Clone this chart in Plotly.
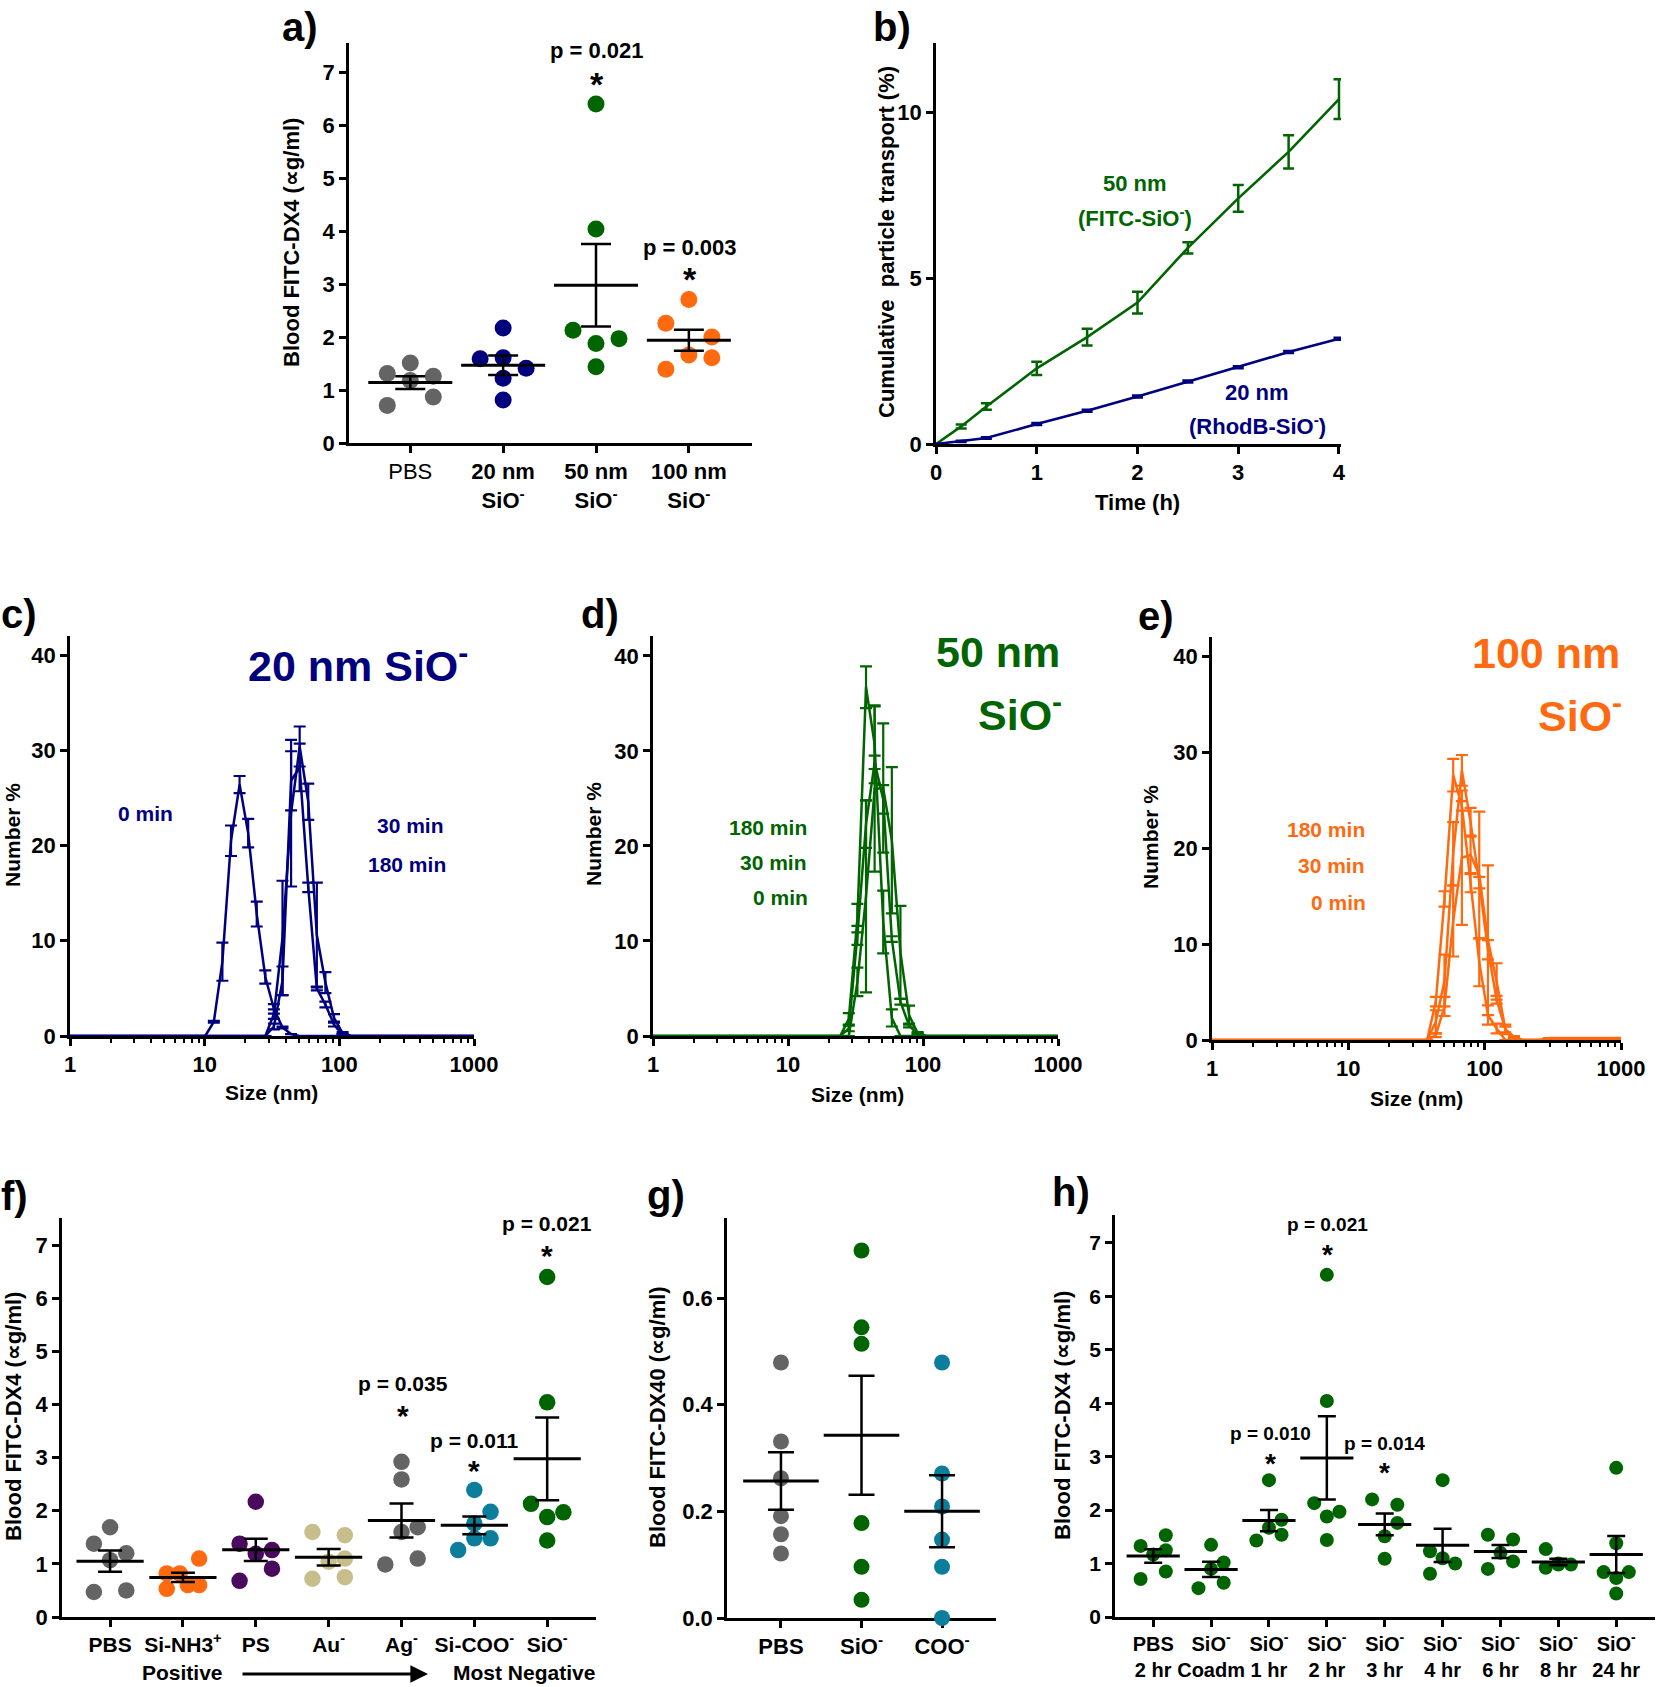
import numpy as np
import plotly.graph_objects as go

# Design coordinates are pixels of the 1658x1687 target picture; positions are
# expressed as paper fractions of a plot area that fills the whole page.
W, H = 1658, 1687
FONT = "Liberation Sans, Arial, Helvetica, sans-serif"

C_GRAY = "#646464"
C_NAVY = "#00007F"
C_GREEN = "#006400"
C_ORANGE = "#FF6A10"
C_PURPLE = "#4A0A5E"
C_TAN = "#C8BE8C"
C_TEAL = "#0B7E9C"

# ---------------- panel a data ----------------
a_ticktext = ["PBS", "<b>20 nm</b><br><b>SiO<sup>-</sup></b>",
              "<b>50 nm</b><br><b>SiO<sup>-</sup></b>", "<b>100 nm</b><br><b>SiO<sup>-</sup></b>"]
a_pbs = [1.51, 1.31, 1.26, 1.18, 0.87, 0.71]
a_20nm = [2.17, 1.61, 1.59, 1.41, 1.22, 0.81]
a_50nm = [6.40, 4.04, 2.13, 1.97, 1.88, 1.44]
a_100nm = [2.71, 2.26, 2.00, 1.66, 1.61, 1.39]

# ---------------- panel b data ----------------
b_time = [0, 0.25, 0.5, 1, 1.5, 2, 2.5, 3, 3.5, 4]
b_50nm = [0, 0.53, 1.13, 2.28, 3.22, 4.26, 5.91, 7.40, 8.80, 10.39]
b_50nm_err = [0, 0.06, 0.10, 0.20, 0.25, 0.33, 0.17, 0.40, 0.50, 0.60]
b_20nm = [0, 0.08, 0.18, 0.60, 1.00, 1.43, 1.88, 2.31, 2.77, 3.17]
b_20nm_err = [0, 0.02, 0.02, 0.03, 0.03, 0.03, 0.03, 0.03, 0.03, 0.03]

# ---------------- panel c data (20 nm) ----------------
c_size = [1.0, 8.721, 10.10, 11.70, 13.54, 15.69, 18.17, 21.04, 24.36, 28.21, 32.67, 37.84,
          43.82, 50.75, 58.77, 68.06, 78.82, 91.28, 105.7, 122.4, 141.8, 1000]
c_0min = [0, 0, 0, 1.5, 7.8, 20.5, 26.4, 21.3, 12.8, 6.2, 2.85, 0.9, 0.2, 0, 0, 0, 0, 0, 0, 0, 0, 0]
c_0min_err = [0, 0, 0, 0.1, 2.0, 1.6, 0.9, 1.5, 1.3, 0.7, 0.5, 0.1, 0, 0, 0, 0, 0, 0, 0, 0, 0, 0]
c_30min = [0, 0, 0, 0, 0, 0, 0, 0, 0, 0, 2.3, 10.3, 23.4, 30.4, 24.6, 10.6, 5.6, 1.9, 0.3, 0, 0, 0]
c_30min_err = [0, 0, 0, 0, 0, 0, 0, 0, 0, 0, 0.5, 6.0, 7.7, 2.1, 1.9, 5.5, 1.1, 0.4, 0.1, 0, 0, 0]
c_180min = [0, 0, 0, 0, 0, 0, 0, 0, 0, 0, 1.0, 5.8, 26.8, 28.2, 15.6, 5.0, 3.3, 1.2, 0.1, 0, 0, 0]
c_180min_err = [0, 0, 0, 0, 0, 0, 0, 0, 0, 0, 0.3, 1.5, 3.1, 2.5, 0.5, 0.2, 0.3, 0.2, 0.1, 0, 0, 0]

# ---------------- panel d data (50 nm) ----------------
d_size = [1.0, 24.36, 28.21, 32.67, 37.84, 43.82, 50.75, 58.77, 68.06, 78.82, 91.28, 105.7, 122.4, 1000]
d_180min = [0, 0, 1.8, 12.4, 36.7, 30.7, 12.0, 1.9, 0, 0, 0, 0, 0, 0]
d_180min_err = [0, 0, 0.6, 1.5, 2.2, 4.1, 3.3, 0.9, 0, 0, 0, 0, 0, 0]
d_30min = [0, 0, 0.8, 10.6, 22.3, 28.8, 24.9, 10.2, 3.6, 1.1, 0.2, 0, 0, 0]
d_30min_err = [0, 0, 0.3, 1.0, 2.5, 0.7, 1.5, 0.3, 0.3, 0.2, 0.1, 0, 0, 0]
d_0min = [0, 0, 0, 5.7, 14.7, 26.0, 26.1, 20.6, 8.8, 2.2, 0.3, 0, 0, 0]
d_0min_err = [0, 0, 0, 1.5, 10.1, 8.7, 6.8, 7.7, 4.9, 1.0, 0.1, 0, 0, 0]

# ---------------- panel e data (100 nm) ----------------
e_size = [1.0, 37.84, 43.82, 50.75, 58.77, 68.06, 78.82, 91.28, 105.7, 122.4, 141.8, 164.2, 190.1,
          220.2, 255.0, 295.3, 342.0, 396.1, 458.7, 531.2, 615.1, 712.4, 825.0, 955.4, 1000]
e_180min = [0, 0, 4.0, 14.7, 27.6, 24.4, 16.4, 8.1, 2.6, 1.2, 0, 0, 0,
            0, 0, 0, 0, 0, 0, 0, 0, 0, 0, 0, 0]
e_180min_err = [0, 0, 0.5, 0.8, 1.7, 0.5, 1.0, 2.5, 1.0, 0.5, 0, 0, 0,
                0, 0, 0, 0, 0, 0, 0, 0, 0, 0, 0, 0]
e_30min = [0, 0, 1.9, 6.2, 19.4, 28.1, 22.7, 16.4, 9.4, 4.2, 1.1, 0.3, 0,
           0, 0, 0, 0, 0, 0, 0, 0, 0, 0, 0, 0]
e_30min_err = [0, 0, 1.2, 2.7, 3.3, 1.6, 1.5, 0.6, 1.0, 0.4, 0.3, 0.1, 0,
               0, 0, 0, 0, 0, 0, 0, 0, 0, 0, 0, 0]
e_0min = [0, 0, 0.5, 3.5, 12.4, 19.0, 19.3, 17.2, 10.4, 6.1, 1.1, 0.3, 0,
          0, 0, 0.2, 0.2, 0.2, 0.2, 0.2, 0.2, 0.2, 0.2, 0.2, 0.2]
e_0min_err = [0, 0, 0.2, 1.0, 3.7, 7.0, 2.0, 6.6, 7.8, 1.9, 0.5, 0.1, 0,
              0, 0, 0, 0, 0, 0, 0, 0, 0, 0, 0, 0]

# ---------------- panel f data ----------------
f_ticktext = ["PBS", "Si-NH3<sup>+</sup>", "PS", "Au<sup>-</sup>", "Ag<sup>-</sup>",
              "Si-COO<sup>-</sup>", "SiO<sup>-</sup>"]
f_pbs = [1.69, 1.38, 1.20, 1.07, 0.47, 0.50]
f_sinh3 = [1.10, 0.82, 0.82, 0.53, 0.60, 0.60]
f_ps = [2.17, 1.38, 1.26, 1.19, 0.91, 0.68]
f_au = [1.60, 1.54, 1.10, 1.04, 0.75, 0.72]
f_ag = [2.92, 2.59, 1.69, 1.60, 1.10, 0.99]
f_sicoo = [2.39, 1.98, 1.76, 1.48, 1.48, 1.26]
f_sio = [6.40, 4.04, 2.13, 1.97, 1.88, 1.44]

# ---------------- panel g data ----------------
g_ticktext = ["PBS", "SiO<sup>-</sup>", "COO<sup>-</sup>"]
g_pbs = [0.479, 0.331, 0.262, 0.191, 0.157, 0.121]
g_sio = [0.689, 0.545, 0.514, 0.178, 0.096, 0.034]
g_coo = [0.479, 0.271, 0.209, 0.147, 0.096, 0.0]

# ---------------- panel h data ----------------
h_ticktext = ["PBS<br>2 hr", "SiO<sup>-</sup><br>Coadm", "SiO<sup>-</sup><br>1 hr",
              "SiO<sup>-</sup><br>2 hr", "SiO<sup>-</sup><br>3 hr", "SiO<sup>-</sup><br>4 hr",
              "SiO<sup>-</sup><br>6 hr", "SiO<sup>-</sup><br>8 hr", "SiO<sup>-</sup><br>24 hr"]
h_pbs = [1.53, 1.33, 1.25, 1.17, 0.85, 0.71]
h_coadm = [1.35, 1.02, 0.90, 0.64, 0.54]
h_1hr = [2.56, 1.82, 1.67, 1.54, 1.43]
h_2hr = [6.40, 4.04, 2.13, 1.97, 1.88, 1.44]
h_3hr = [2.20, 2.10, 1.76, 1.51, 1.09]
h_4hr = [2.56, 1.23, 1.10, 1.00, 0.81]
h_6hr = [1.54, 1.45, 1.20, 1.04, 0.90]
h_8hr = [1.27, 1.00, 0.98, 0.98, 0.92]
h_24hr = [2.79, 1.38, 0.84, 0.84, 0.73, 0.44]

# ---------------- styling: dot column slots (-1 left, 0 centre, 1 right) ----------------
a_slots = [[0, -1, 1, 0, 1, -1], [0, 0, -1, 1, 0, 0], [0, 0, -1, 1, 0, 0], [0, -1, 1, 0, 1, -1]]
f_slots = [[0, -1, 1, 0, -1, 1], [1, -1, -0.2, -1, 0.3, 1], [0, -1, 1, 0, 1, -1],
           [-1, 1, 1, 0, 1, -1], [0, 0, 1, 0, 1, -1], [0, 1, 0, 1, 0, -1], [0, 0, -1, 1, 0, 0]]
g_slots = [[0] * 6, [0] * 6, [0] * 6]
h_slots = [[1, -1, 1, 0, 1, -1], [0, 1, 0, 1, -1], [0, 1, 0, 1, -1], [0, 0, -1, 1, 0, 0],
           [-1, 1, 1, 0, 0], [0, -1, 0, 1, -1], [-1, 1, 0, 1, -1], [-1, 0, 0, 1, -1],
           [0, 0, -1, 1, 0, 0]]

fig = go.Figure()
annotations = []


def fx(x):
    return x / W


def fy(y):
    return 1 - y / H


def xdom(x0, x1):
    return [max(0.0, fx(x0)), min(1.0, fx(x1))]


def ydom(ytop, ybot):
    return [max(0.0, fy(ybot)), min(1.0, fy(ytop))]


def axis(domain, rng, anchor, tickvals=None, ticktext=None, size=22, weight="bold", **kw):
    d = dict(domain=domain, range=rng, anchor=anchor, showline=True, linecolor="black",
             linewidth=2.5, ticks="outside", ticklen=7, tickwidth=2.5, tickcolor="black",
             showgrid=False, zeroline=False, layer="below traces", tickangle=0,
             automargin=False,
             tickfont=dict(family=FONT, size=size, color="black", weight=weight))
    if tickvals is not None:
        d["tickmode"] = "array"
        d["tickvals"] = tickvals
        d["ticktext"] = ticktext if ticktext is not None else [str(v) for v in tickvals]
    d.update(kw)
    return d


def text(t, x, y, size, color="black", xanchor="center", yanchor="middle", angle=0,
         weight="bold"):
    annotations.append(dict(text=t, x=fx(x), y=fy(y), xref="paper", yref="paper",
                            showarrow=False, xanchor=xanchor, yanchor=yanchor, textangle=angle,
                            align=xanchor if xanchor != "center" else "center",
                            font=dict(family=FONT, size=size, color=color, weight=weight)))


def dot_panel(xa, ya, groups, slots, colors, slot_px, px_per_cat, dot, mean_len, cap, mean_w=3):
    for i, (vals, sl, col) in enumerate(zip(groups, slots, colors)):
        xs = [i + s * slot_px / px_per_cat for s in sl]
        fig.add_trace(go.Scatter(x=xs, y=vals, mode="markers", xaxis=xa, yaxis=ya,
                                 marker=dict(size=dot, color=col, line=dict(width=0)),
                                 cliponaxis=False, showlegend=False, hoverinfo="skip"))
    means = [float(np.mean(v)) for v in groups]
    sems = [float(np.std(v, ddof=1) / np.sqrt(len(v))) for v in groups]
    fig.add_trace(go.Scatter(x=list(range(len(groups))), y=means, mode="markers",
                             xaxis=xa, yaxis=ya, cliponaxis=False, showlegend=False,
                             marker=dict(symbol="line-ew", size=mean_len, color="black",
                                         line=dict(color="black", width=mean_w)),
                             error_y=dict(type="data", array=sems, visible=True, color="black",
                                          thickness=2.5, width=cap),
                             hoverinfo="skip"))


def dls_curve(xa, ya, x, y, err, color):
    fig.add_trace(go.Scatter(x=x, y=y, mode="lines", xaxis=xa, yaxis=ya,
                             line=dict(color=color, width=2.5),
                             error_y=dict(type="data", array=err, visible=True, color=color,
                                          thickness=2.2, width=6),
                             cliponaxis=False, showlegend=False, hoverinfo="skip"))


layout_axes = {}

# ---------- panel a ----------
a_xr = [-0.66, 3.68]
layout_axes["xaxis"] = axis(xdom(349, 752), a_xr, "y", [0, 1, 2, 3], a_ticktext, size=22, weight="normal")
layout_axes["yaxis"] = axis(ydom(43, 443), [0, 7.55], "x", list(range(8)), size=22)
dot_panel("x", "y", [a_pbs, a_20nm, a_50nm, a_100nm], a_slots,
          [C_GRAY, C_NAVY, C_GREEN, C_ORANGE], 23, (752 - 349) / (a_xr[1] - a_xr[0]),
          17, 60, 15)

# ---------- panel b ----------
layout_axes["xaxis2"] = axis(xdom(936, 1341), [0, 4.02], "y2", [0, 1, 2, 3, 4], size=22)
layout_axes["yaxis2"] = axis(ydom(43, 444), [0, 12.08], "x2", [0, 5, 10], size=22)
fig.add_trace(go.Scatter(x=b_time, y=b_50nm, mode="lines", xaxis="x2", yaxis="y2",
                         line=dict(color=C_GREEN, width=2.6),
                         error_y=dict(type="data", array=b_50nm_err, visible=True, color=C_GREEN,
                                      thickness=2.5, width=5.5),
                         cliponaxis=False, showlegend=False))
fig.add_trace(go.Scatter(x=b_time, y=b_20nm, mode="lines", xaxis="x2", yaxis="y2",
                         line=dict(color=C_NAVY, width=2.6),
                         error_y=dict(type="data", array=b_20nm_err, visible=True, color=C_NAVY,
                                      thickness=2.5, width=5.5),
                         cliponaxis=False, showlegend=False))

# ---------- panels c, d, e ----------
log_major = [1, 10, 100, 1000]
log_minor = [2, 3, 4, 5, 6, 7, 8, 9, 20, 30, 40, 50, 60, 70, 80, 90,
             200, 300, 400, 500, 600, 700, 800, 900]


def log_axis(domain, anchor):
    return axis(domain, [0, 3], anchor, log_major, ["1", "10", "100", "1000"], size=22,
                type="log",
                minor=dict(tickmode="array", tickvals=log_minor, ticks="outside", ticklen=4,
                           tickwidth=2, tickcolor="black", showgrid=False))


layout_axes["xaxis3"] = log_axis(xdom(70, 474), "y3")
layout_axes["yaxis3"] = axis(ydom(636, 1036), [0, 42.0], "x3", [0, 10, 20, 30, 40], size=22)
for yy, ee in [(c_0min, c_0min_err), (c_30min, c_30min_err), (c_180min, c_180min_err)]:
    dls_curve("x3", "y3", c_size, yy, ee, C_NAVY)

layout_axes["xaxis4"] = log_axis(xdom(653, 1058), "y4")
layout_axes["yaxis4"] = axis(ydom(636, 1036), [0, 42.1], "x4", [0, 10, 20, 30, 40], size=22)
for yy, ee in [(d_0min, d_0min_err), (d_30min, d_30min_err), (d_180min, d_180min_err)]:
    dls_curve("x4", "y4", d_size, yy, ee, C_GREEN)

layout_axes["xaxis5"] = log_axis(xdom(1212, 1621), "y5")
layout_axes["yaxis5"] = axis(ydom(637, 1040), [0, 42.0], "x5", [0, 10, 20, 30, 40], size=22)
for yy, ee in [(e_0min, e_0min_err), (e_30min, e_30min_err), (e_180min, e_180min_err)]:
    dls_curve("x5", "y5", e_size, yy, ee, C_ORANGE)

# ---------- panel f ----------
f_xr = [-0.66, 6.67]
layout_axes["xaxis6"] = axis(xdom(62, 596), f_xr, "y6", list(range(7)), f_ticktext, size=21)
layout_axes["yaxis6"] = axis(ydom(1218, 1617), [0, 7.51], "x6", list(range(8)), size=22)
dot_panel("x6", "y6", [f_pbs, f_sinh3, f_ps, f_au, f_ag, f_sicoo, f_sio], f_slots,
          [C_GRAY, C_ORANGE, C_PURPLE, C_TAN, C_GRAY, C_TEAL, C_GREEN], 16.2,
          (596 - 62) / (f_xr[1] - f_xr[0]), 16.5, 48, 12)

# ---------- panel g ----------
g_xr = [-0.67, 2.67]
layout_axes["xaxis7"] = axis(xdom(727, 996), g_xr, "y7", [0, 1, 2], g_ticktext, size=22)
layout_axes["yaxis7"] = axis(ydom(1218, 1618), [0, 0.75], "x7", [0, 0.2, 0.4, 0.6],
                             ["0.0", "0.2", "0.4", "0.6"], size=22)
dot_panel("x7", "y7", [g_pbs, g_sio, g_coo], g_slots, [C_GRAY, C_GREEN, C_TEAL], 14,
          (996 - 727) / (g_xr[1] - g_xr[0]), 16, 54, 13)

# ---------- panel h ----------
h_xr = [-0.66, 8.67]
layout_axes["xaxis8"] = axis(xdom(1115, 1655), h_xr, "y8", list(range(9)), h_ticktext, size=20)
layout_axes["yaxis8"] = axis(ydom(1215, 1617), [0, 7.52], "x8", list(range(8)), size=21)
dot_panel("x8", "y8", [h_pbs, h_coadm, h_1hr, h_2hr, h_3hr, h_4hr, h_6hr, h_8hr, h_24hr],
          h_slots, [C_GREEN] * 9, 12.6, (1655 - 1115) / (h_xr[1] - h_xr[0]), 14, 38, 9)

# ---------- texts ----------
for lab, x, y in [("a)", 300, 27), ("b)", 892, 27), ("c)", 19, 614), ("d)", 600, 614),
                  ("e)", 1156, 616), ("f)", 14, 1196), ("g)", 666, 1195), ("h)", 1071, 1192)]:
    text(lab, x, y, 40)

text("Blood FITC-DX4 (∝g/ml)", 292, 243, 22, angle=-90)
text("Cumulative\u00a0 particle transport (%)", 887, 242, 22, angle=-90)
text("Number %", 12, 835, 21, angle=-90)
text("Number %", 593, 834, 21, angle=-90)
text("Number %", 1150, 837, 21, angle=-90)
text("Blood FITC-DX4 (∝g/ml)", 13, 1417, 22, angle=-90)
text("Blood FITC-DX40 (∝g/ml)", 657, 1417, 22, angle=-90)
text("Blood FITC-DX4 (∝g/ml)", 1062, 1416, 22, angle=-90)

text("Time (h)", 1137, 502, 22)
text("Size (nm)", 271, 1092, 21)
text("Size (nm)", 857, 1094, 21)
text("Size (nm)", 1416, 1098, 21)

# p values and stars (star glyph sits high in its line box, hence the offset)
for t, x, y, s, ys, ss in [("p = 0.021", 597, 50, 22, 80, 34), ("p = 0.003", 690, 247, 22, 275, 34),
                           ("p = 0.021", 547, 1223, 21, 1252, 30), ("p = 0.035", 403, 1383, 21, 1412, 30),
                           ("p = 0.011", 474, 1440, 21, 1467, 30), ("p = 0.021", 1327, 1224, 19, 1251, 28),
                           ("p = 0.010", 1270, 1433, 19, 1460, 28), ("p = 0.014", 1384, 1443, 19, 1469, 28)]:
    text(t, x, y, s)
    text("*", x, ys + 0.13 * ss, ss)

# panel b series labels
text("50 nm", 1135, 183, 22, C_GREEN)
text("(FITC-SiO<sup>-</sup>)", 1135, 217, 22, C_GREEN)
text("20 nm", 1257, 392, 22, C_NAVY)
text("(RhodB-SiO<sup>-</sup>)", 1257, 425, 22, C_NAVY)

# panel c labels
text("20 nm SiO<sup>-</sup>", 358, 663, 43, C_NAVY)
text("0 min", 145, 813, 21, C_NAVY)
text("30 min", 410, 825, 21, C_NAVY)
text("180 min", 407, 865, 21, C_NAVY)

# panel d labels
text("50 nm", 1062, 652, 43, C_GREEN, xanchor="right")
text("SiO<sup>-</sup>", 1064, 712, 43, C_GREEN, xanchor="right")
text("180 min", 809, 827, 21, C_GREEN, xanchor="right")
text("30 min", 809, 863, 21, C_GREEN, xanchor="right")
text("0 min", 810, 897, 21, C_GREEN, xanchor="right")

# panel e labels
text("100 nm", 1622, 653, 43, C_ORANGE, xanchor="right")
text("SiO<sup>-</sup>", 1624, 713, 43, C_ORANGE, xanchor="right")
text("180 min", 1367, 829, 21, C_ORANGE, xanchor="right")
text("30 min", 1367, 866, 21, C_ORANGE, xanchor="right")
text("0 min", 1368, 902, 21, C_ORANGE, xanchor="right")

# panel f charge arrow
text("Positive", 182, 1672, 21)
text("Most Negative", 524, 1672, 21)
annotations.append(dict(x=fx(428), y=fy(1674), xref="paper", yref="paper", text="",
                        showarrow=True, ax=-187, ay=0, axref="pixel", ayref="pixel",
                        arrowhead=2, arrowsize=1.1, arrowwidth=3.2, arrowcolor="black"))

fig.update_layout(autosize=True, margin=dict(l=0, r=0, t=0, b=0, pad=0, autoexpand=False),
                  paper_bgcolor="white", plot_bgcolor="white", showlegend=False,
                  font=dict(family=FONT, color="black"), annotations=annotations, **layout_axes)

# The plot div fills the viewport exactly and is pinned to the page origin
# (so the body's default margin cannot push it or make the page overflow).
fig.write_html("out.html", config={"displayModeBar": False, "responsive": True},
               default_width="100vw",
               default_height="100vh; position:absolute; left:0; top:0; margin:0")
